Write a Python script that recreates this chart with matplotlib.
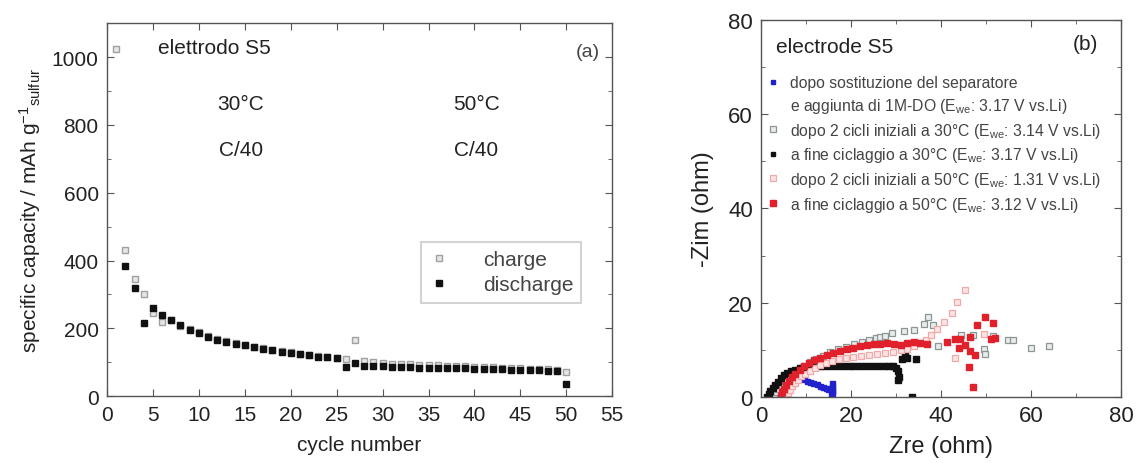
import matplotlib
matplotlib.use("Agg")
import matplotlib.pyplot as plt
from matplotlib.lines import Line2D
from matplotlib.ticker import MultipleLocator

plt.rcParams['font.family'] = ['Liberation Sans', 'DejaVu Sans']
plt.rcParams['mathtext.fontset'] = 'custom'
plt.rcParams['mathtext.rm'] = 'Liberation Sans'
plt.rcParams['mathtext.it'] = 'Liberation Sans'

# (a) specific capacity vs cycle number
cycles_charge = list(range(1, 51))
charge = [1025, 430, 345, 300, 245, 220, 225, 208, 198, 188,
          178, 168, 162, 156, 150, 146, 141, 136, 132, 130,
          125, 121, 118, 116, 113, 110, 165, 105, 100, 97,
          96, 95, 94, 93, 92, 91, 90, 89, 88, 87,
          86, 85, 84, 83, 82, 81, 80, 79, 78, 72]
cycles_discharge = list(range(2, 51))
discharge = [385, 320, 215, 260, 240, 225, 210, 195, 185,
             175, 165, 160, 155, 150, 145, 140, 135, 130, 128,
             123, 120, 117, 115, 112, 85, 97, 90, 88, 88,
             87, 87, 86, 84, 84, 84, 83, 82, 82, 81,
             80, 80, 79, 78, 78, 76, 76, 74, 73, 35]

# (b) Nyquist plots
blue_x = [1.8, 2.0, 2.3, 2.7, 3.1, 3.6, 4.1, 4.7, 5.3, 6.0, 6.7, 7.4, 8.1, 8.8,
          9.5, 10.2, 10.9, 11.6, 12.3, 13.0, 13.7, 14.3, 14.9, 15.4, 15.7,
          15.8, 15.8, 15.8, 15.8, 15.6]
blue_y = [0.2, 0.6, 1.0, 1.5, 2.0, 2.5, 2.9, 3.3, 3.6, 3.9, 4.1, 4.2, 4.2, 4.1,
          3.8, 3.5, 3.2, 2.9, 2.7, 2.4, 2.2, 2.0, 1.8, 1.6, 1.3,
          3.0, 2.4, 1.8, 0.8, 0.5]

gray_x = [2.8, 3.2, 3.8, 4.5, 5.3, 6.2, 7.2, 8.3, 9.5, 10.8, 12.2, 13.7, 15.3,
          17.0, 18.8, 20.6, 22.5, 24.0, 25.5, 26.5, 27.5, 29.0, 31.8, 34.0,
          36.2, 37.1, 38.2, 39.4, 44.5, 47.0, 49.6, 49.8, 51.8, 51.6, 54.8,
          55.9, 60.0, 64.0]
gray_y = [0.3, 1.0, 1.8, 2.6, 3.4, 4.2, 5.0, 5.8, 6.6, 7.4, 8.1, 8.8, 9.5,
          10.1, 10.7, 11.2, 11.7, 12.2, 12.6, 12.8, 13.0, 13.6, 14.0, 14.3,
          15.5, 16.9, 15.2, 10.9, 13.1, 13.1, 10.3, 9.1, 12.6, 13.0, 12.1,
          12.1, 10.4, 10.8]

black_x = [1.3, 1.6, 2.0, 2.5, 3.0, 3.6, 4.3, 5.0, 5.8, 6.7, 7.6, 8.6, 9.6,
           10.7, 11.8, 13.0, 14.2, 15.5, 16.8, 18.1, 19.4, 20.7, 22.0, 23.3,
           24.6, 25.9, 27.2, 28.3, 29.3, 30.0, 30.5, 30.6, 30.5, 31.3, 32.0,
           32.4, 34.4, 33.5]
black_y = [0.1, 0.6, 1.2, 1.9, 2.6, 3.3, 4.0, 4.6, 5.1, 5.5, 5.8, 6.1, 6.3,
           6.4, 6.5, 6.5, 6.5, 6.5, 6.5, 6.5, 6.5, 6.6, 6.5, 6.5,
           6.6, 6.6, 6.6, 6.7, 6.5, 6.2, 5.6, 4.2, 3.6, 8.1, 8.8,
           8.4, 8.0, 0.1]

pink_x = [5.6, 5.9, 6.3, 6.8, 7.4, 8.1, 8.9, 9.8, 10.8, 11.9, 13.1, 14.4,
          15.8, 17.3, 18.9, 20.5, 22.2, 24.0, 25.8, 27.6, 29.4, 31.0, 32.5,
          34.0, 35.3, 36.6, 37.7, 39.0, 40.7, 42.4, 43.6, 45.3, 43.1, 49.6]
pink_y = [0.2, 0.9, 1.6, 2.3, 3.0, 3.7, 4.4, 5.0, 5.6, 6.2, 6.8, 7.2,
          7.6, 8.0, 8.3, 8.5, 8.7, 8.9, 9.1, 9.3, 9.6, 9.9, 10.3,
          10.8, 11.4, 12.1, 13.1, 14.5, 16.0, 17.9, 20.2, 22.8, 8.2, 13.4]

red_x = [4.3, 4.6, 5.0, 5.5, 6.1, 6.8, 7.6, 8.5, 9.5, 10.6, 11.8, 13.1, 14.5,
         16.0, 17.5, 19.0, 20.5, 22.0, 23.5, 25.0, 26.5, 28.0, 29.5, 31.0,
         32.5, 34.0, 35.3, 36.8, 41.3, 43.1, 43.9, 44.2, 45.4, 46.4, 46.4,
         47.6, 46.3, 47.2, 47.9, 49.8, 51.6, 51.0, 52.0]
red_y = [0.2, 1.0, 1.8, 2.6, 3.4, 4.2, 5.0, 5.8, 6.5, 7.2, 7.8, 8.4, 8.9,
         9.4, 9.8, 10.2, 10.5, 10.8, 11.0, 11.2, 11.3, 11.5, 11.2, 11.0,
         11.4, 11.6, 11.5, 11.3, 11.6, 12.3, 10.5, 12.3, 11.0, 12.7, 9.8,
         8.9, 6.3, 2.1, 15.3, 16.9, 15.7, 12.3, 12.5]

labels_b = ["dopo sostituzione del separatore",
            "dopo 2 cicli iniziali a 30°C (E$_{we}$: 3.14 V vs.Li)",
            "a fine ciclaggio a 30°C (E$_{we}$: 3.17 V vs.Li)",
            "dopo 2 cicli iniziali a 50°C (E$_{we}$: 1.31 V vs.Li)",
            "a fine ciclaggio a 50°C (E$_{we}$: 3.12 V vs.Li)"]
label_b_cont = "e aggiunta di 1M-DO (E$_{we}$: 3.17 V vs.Li)"

fig = plt.figure(figsize=(11.38, 4.64), dpi=100)
ax1 = fig.add_axes([0.094, 0.144, 0.444, 0.804])
ax2 = fig.add_axes([0.669, 0.142, 0.316, 0.813])

txt = '#222222'
for ax in (ax1, ax2):
    for s in ax.spines.values():
        s.set_color('#555555')
        s.set_linewidth(1.0)
    ax.tick_params(which='both', direction='in', top=True, right=True,
                   colors='#555555', labelcolor=txt)
    ax.tick_params(which='major', length=5)
    ax.tick_params(which='minor', length=3)

# panel (a)
ax1.plot(cycles_charge, charge, 's', ms=5, mfc='#e6e6e6', mec='#a0a0a0',
         mew=1.0, label='charge')
ax1.plot(cycles_discharge, discharge, 's', ms=5, mfc='#111111', mec='#111111',
         label='discharge')
ax1.set_xlim(0, 55)
ax1.set_ylim(0, 1100)
ax1.xaxis.set_major_locator(MultipleLocator(5))
ax1.yaxis.set_major_locator(MultipleLocator(200))
ax1.yaxis.set_minor_locator(MultipleLocator(100))
ax1.tick_params(which='major', labelsize=15, pad=6)
ax1.set_xlabel('cycle number', fontsize=15, color=txt, labelpad=8)
ax1.set_ylabel('specific capacity / mAh g$^{-1}$$_{\\mathregular{sulfur}}$',
               fontsize=15, color=txt, labelpad=6)
ax1.text(5.6, 1029, 'elettrodo S5', fontsize=15, color=txt, va='center')
ax1.text(52.3, 1015, '(a)', fontsize=14, color='#444444', ha='center', va='center')
for xc, lab in ((14.6, '30°C'), (40.2, '50°C')):
    ax1.text(xc, 864, lab, fontsize=15, color=txt, ha='center', va='center')
    ax1.text(xc, 726, 'C/40', fontsize=15, color=txt, ha='center', va='center')
leg1 = ax1.legend(loc='upper left', bbox_to_anchor=(0.60, 0.442, 0.358, 0.0),
                  mode='expand', fontsize=15, handletextpad=1.6,
                  borderpad=0.4, labelspacing=0.3, fancybox=False,
                  handlelength=1.0)
leg1.get_frame().set_edgecolor('#c8c8c8')
leg1.get_frame().set_linewidth(1.5)
for t in leg1.get_texts():
    t.set_color('#444444')

# panel (b)
h_blue, = ax2.plot(blue_x, blue_y, 's', ms=3.6, color='#2222cc', mec='#2222cc')
h_gray, = ax2.plot(gray_x, gray_y, 's', ms=4.2, mfc='#e8ecec', mec='#8c9494', mew=0.9)
h_black, = ax2.plot(black_x, black_y, 's', ms=3.8, color='#111111')
h_pink, = ax2.plot(pink_x, pink_y, 's', ms=4.2, mfc='#fde4e4', mec='#f0a8a8', mew=0.9)
h_red, = ax2.plot(red_x, red_y, 's', ms=4.2, color='#e0202a')
blank = Line2D([], [], linestyle='none', marker='none')
ax2.set_xlim(0, 80)
ax2.set_ylim(0, 80)
ax2.xaxis.set_major_locator(MultipleLocator(20))
ax2.xaxis.set_minor_locator(MultipleLocator(10))
ax2.yaxis.set_major_locator(MultipleLocator(20))
ax2.yaxis.set_minor_locator(MultipleLocator(10))
ax2.tick_params(which='major', labelsize=16, pad=6)
ax2.set_xlabel('Zre (ohm)', fontsize=17, color=txt, labelpad=6)
ax2.set_ylabel('-Zim (ohm)', fontsize=17, color=txt, labelpad=10)
ax2.text(3.3, 74.3, 'electrode S5', fontsize=15, color=txt, va='center')
ax2.text(72.2, 74.9, '(b)', fontsize=15, color=txt, ha='center', va='center')
leg2 = ax2.legend([h_blue, blank, h_gray, h_black, h_pink, h_red],
                  [labels_b[0], label_b_cont] + labels_b[1:],
                  loc='upper left', bbox_to_anchor=(0.01, 0.853), frameon=False,
                  fontsize=11.3, handletextpad=0.6, labelspacing=0.36,
                  handlelength=1.0, borderaxespad=0.0, borderpad=0.0,
                  markerscale=0.9)
for t in leg2.get_texts():
    t.set_color('#444444')

fig.savefig('out.png', dpi=100)
